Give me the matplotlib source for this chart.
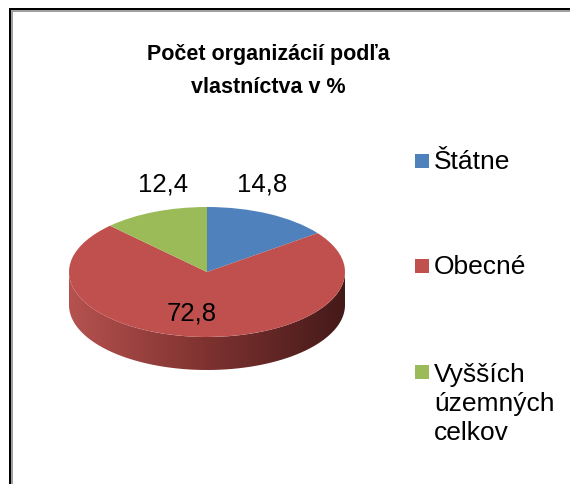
import numpy as np
import matplotlib.pyplot as plt
from matplotlib.colors import LinearSegmentedColormap
from matplotlib.patches import Polygon, Rectangle

plt.rcParams['font.family'] = ['Liberation Sans', 'DejaVu Sans']

# data
categories = ['Štátne', 'Obecné', 'Vyšších\núzemných\ncelkov']
values = [14.8, 72.8, 12.4]
value_labels = ['14,8', '72,8', '12,4']
colors = ['#4F81BD', '#C0504D', '#9BBB59']
title = 'Počet organizácií podľa\nvlastníctva v %'

W, H = 570, 485
fig = plt.figure(figsize=(W / 100, H / 100), dpi=100)


def fx(px):
    return px / W


def fy(py):
    return 1 - py / H


def box(x0, y0, x1, y1, col):
    # rectangle in pixel coords (y from top)
    fig.patches.append(Rectangle((fx(x0), fy(y1)), (x1 - x0) / W, (y1 - y0) / H,
                                 transform=fig.transFigure, facecolor=col,
                                 edgecolor='none', zorder=5))


# pie geometry in pixels (center, half axes, side depth)
cx, cy, a, b, depth = 207, 273, 138, 65, 33
ax = fig.add_axes([fx(cx - 1.1 * a), fy(cy + 1.8 * b), 2.2 * a / W, 2.9 * b / H])

wedges, _ = ax.pie(values, colors=colors, startangle=90, counterclock=False,
                   wedgeprops=dict(linewidth=0))

# side of the "3d" pie (front half is all the red slice)
d = depth / b
t = np.linspace(np.pi, 2 * np.pi, 200)
upper = np.column_stack([np.cos(t), np.sin(t)])
lower = np.column_stack([np.cos(t[::-1]), np.sin(t[::-1]) - d])
side = Polygon(np.vstack([upper, lower]), closed=True, facecolor='none', edgecolor='none')
ax.add_patch(side)
side_cmap = LinearSegmentedColormap.from_list('side', ['#B5524F', '#7E3230', '#441A19'])
grad = np.linspace(0, 1, 256).reshape(1, -1)
im = ax.imshow(grad, cmap=side_cmap, extent=(-1, 1, -1 - d, 0.05), aspect='auto',
               zorder=0.5, interpolation='bicubic')
im.set_clip_path(side)

ax.set_aspect('auto')
ax.set_xlim(-1.1, 1.1)
ax.set_ylim(-1.8, 1.1)
ax.axis('off')

# value labels
cum = np.concatenate([[0], np.cumsum(values)])
mids = np.deg2rad((cum[:-1] + cum[1:]) / 2 / cum[-1] * 360)
label_r = [(0.89, 1.52), (1.5, 0.62), (0.84, 1.47)]
for m, lab, (rx, ry) in zip(mids, value_labels, label_r):
    ax.text(rx * np.sin(m), ry * np.cos(m), lab, ha='center', va='center',
            fontsize=18.5, color='black')

# title
fig.text(fx(268), fy(71), title, ha='center', va='center', fontsize=15.5,
         fontweight='bold', linespacing=1.72)

# legend
leg_y = [162, 267, 404]
for name, col, y in zip(categories, colors, leg_y):
    n = name.count('\n')
    y_mark = y - n * 15.5
    box(415, y_mark - 7, 429, y_mark + 7, col)
    fig.text(fx(434), fy(y), name, ha='left', va='center', fontsize=19,
             linespacing=1.27)

# frame (left and top edges)
box(8.7, 9, 11.2, H, 'black')
box(8.7, 9, W, 11.3, 'black')
box(11.2, 11.3, 13.3, H, '#A0A0A0')
box(11.2, 11.3, W, 13.3, '#A0A0A0')

fig.savefig('out.png', dpi=100)
